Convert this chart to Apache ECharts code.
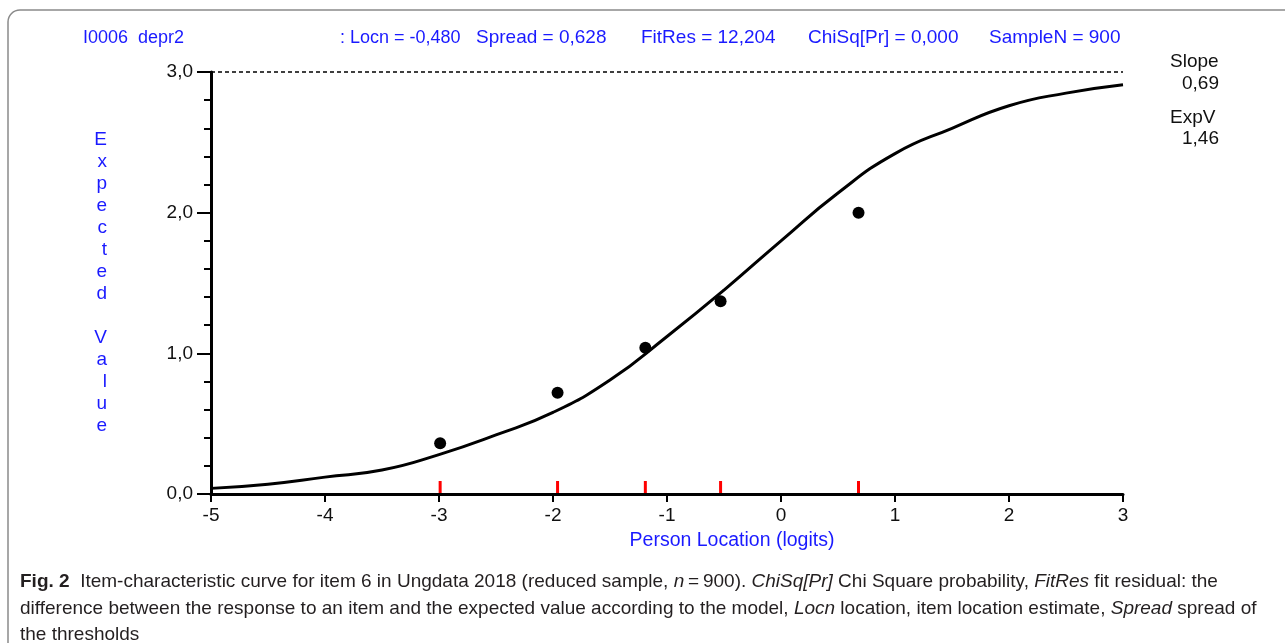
<!DOCTYPE html>
<html>
<head>
<meta charset="utf-8">
<script src="https://cdn.jsdelivr.net/npm/echarts@6/dist/echarts.min.js"></script>
<style>
  html, body { margin: 0; padding: 0; background: #fff; }
  #chart { width: 1285px; height: 643px; }
</style>
</head>
<body>
<div id="chart"></div>
<script>
// expected value curve
var curveX = [-5, -4.5, -4, -3.5, -3, -2.5, -2, -1.5, -1, -0.5, 0, 0.5, 1, 1.5, 2, 2.5, 3];
var curveY = [0.04, 0.07, 0.12, 0.17, 0.28, 0.42, 0.58, 0.81, 1.12, 1.45, 1.80, 2.14, 2.42, 2.60, 2.76, 2.85, 2.91];

// class intervals: mean location and observed mean
var classX = [-2.99, -1.96, -1.19, -0.53, 0.68];
var classObs = [0.36, 0.72, 1.04, 1.37, 2.0];

var headerLeft = 'I0006  depr2';
var headerStats = [': Locn = -0,480', 'Spread = 0,628', 'FitRes = 12,204', 'ChiSq[Pr] = 0,000', 'SampleN = 900'];
var headerStatX = [340, 476, 641, 808, 989];
var headerStatSize = [18, 19, 19, 19, 19];
var sideLabels = ['Slope', '0,69', 'ExpV', '1,46'];

var font = "'Liberation Sans', Arial, sans-serif";
var blue = '#1a1aff';

var chart = echarts.init(document.getElementById('chart'));

var curveData = [];
for (var i = 0; i < curveX.length; i++) {
    curveData.push([curveX[i], curveY[i]]);
}
var obsData = [];
var tickData = [];
for (var j = 0; j < classX.length; j++) {
    obsData.push([classX[j], classObs[j]]);
    tickData.push([classX[j], 0]);
}

function comma(v) {
    return v.toFixed(1).replace('.', ',');
}

function txt(x, y, text, color, size, align) {
    return {
        type: 'text', x: x, y: y, silent: true,
        style: { text: text, fill: color, font: size + 'px ' + font, verticalAlign: 'middle', align: align || 'left' }
    };
}

var graphics = [{
    type: 'rect',
    shape: { x: 8, y: 10, width: 1300, height: 660, r: 12 },
    style: { fill: 'none', stroke: '#8a8a8a', lineWidth: 1.5 },
    silent: true
}];
graphics.push(txt(83, 38, headerLeft, blue, 18));
for (var k = 0; k < headerStats.length; k++) {
    graphics.push(txt(headerStatX[k], 38, headerStats[k], blue, headerStatSize[k]));
}
graphics.push(txt(1170, 62, sideLabels[0], '#111', 19));
graphics.push(txt(1219, 84, sideLabels[1], '#111', 19, 'right'));
graphics.push(txt(1170, 118, sideLabels[2], '#111', 19));
graphics.push(txt(1219, 139, sideLabels[3], '#111', 19, 'right'));
graphics.push(txt(732, 541, 'Person Location (logits)', blue, 19.5, 'center'));

var capSize = 19;
var capRich = {
    b: { fontWeight: 'bold', fontSize: capSize, fontFamily: font, fill: '#231f20' },
    i: { fontStyle: 'italic', fontSize: capSize, fontFamily: font, fill: '#231f20' }
};
var capLines = [
    '{b|Fig. 2}  Item-characteristic curve for item 6 in Ungdata 2018 (reduced sample, {i|n}\u2009=\u2009900). {i|ChiSq[Pr]} Chi Square probability, {i|FitRes} fit residual: the',
    'difference between the response to an item and the expected value according to the model, {i|Locn} location, item location estimate, {i|Spread} spread of',
    'the thresholds'
];
var capY = [582, 609, 635];
for (var c = 0; c < capLines.length; c++) {
    graphics.push({
        type: 'text', x: 20, y: capY[c], silent: true,
        style: { text: capLines[c], fill: '#231f20', font: capSize + 'px ' + font, verticalAlign: 'middle', rich: capRich }
    });
}

chart.setOption({
    backgroundColor: '#fff',
    animation: false,
    grid: { left: 211, right: 162, top: 72, bottom: 149 },
    xAxis: {
        type: 'value',
        min: -5,
        max: 3,
        interval: 1,
        axisLine: { onZero: false, lineStyle: { color: '#000', width: 3 } },
        axisTick: { length: 8, lineStyle: { color: '#000', width: 2 } },
        axisLabel: { color: '#111', fontSize: 19, fontFamily: font, margin: 12 },
        splitLine: { show: false }
    },
    yAxis: {
        type: 'value',
        min: 0,
        max: 3,
        interval: 1,
        axisLine: { show: true, onZero: false, lineStyle: { color: '#000', width: 3 } },
        axisTick: { show: true, length: 14, lineStyle: { color: '#000', width: 2 } },
        minorTick: { show: true, splitNumber: 5, length: 7, lineStyle: { color: '#000', width: 2 } },
        axisLabel: {
            color: '#111', fontSize: 19, fontFamily: font, margin: 18,
            formatter: function (v) { return comma(v); }
        },
        splitLine: { show: false },
        name: 'E\nx\np\ne\nc\nt\ne\nd\n\nV\na\nl\nu\ne',
        nameLocation: 'middle',
        nameRotate: 0,
        nameGap: 104,
        nameTextStyle: { color: blue, fontSize: 19, fontFamily: font, lineHeight: 22, padding: [44, 0, 0, 0] }
    },
    series: [{
        type: 'line',
        data: curveData,
        smooth: true,
        showSymbol: false,
        lineStyle: { color: '#000', width: 3 },
        z: 3,
        markLine: {
            silent: true,
            symbol: 'none',
            label: { show: false },
            lineStyle: { color: '#000', type: [4, 3], width: 1.5 },
            data: [{ yAxis: 3 }]
        }
    }, {
        type: 'scatter',
        data: obsData,
        symbol: 'circle',
        symbolSize: 12,
        itemStyle: { color: '#000', opacity: 1 },
        z: 4
    }, {
        type: 'scatter',
        data: tickData,
        symbol: 'rect',
        symbolSize: [3, 12],
        symbolOffset: [0, -7],
        itemStyle: { color: '#ff0000', opacity: 1 },
        z: 5
    }],
    graphic: graphics
});
</script>
</body>
</html>
